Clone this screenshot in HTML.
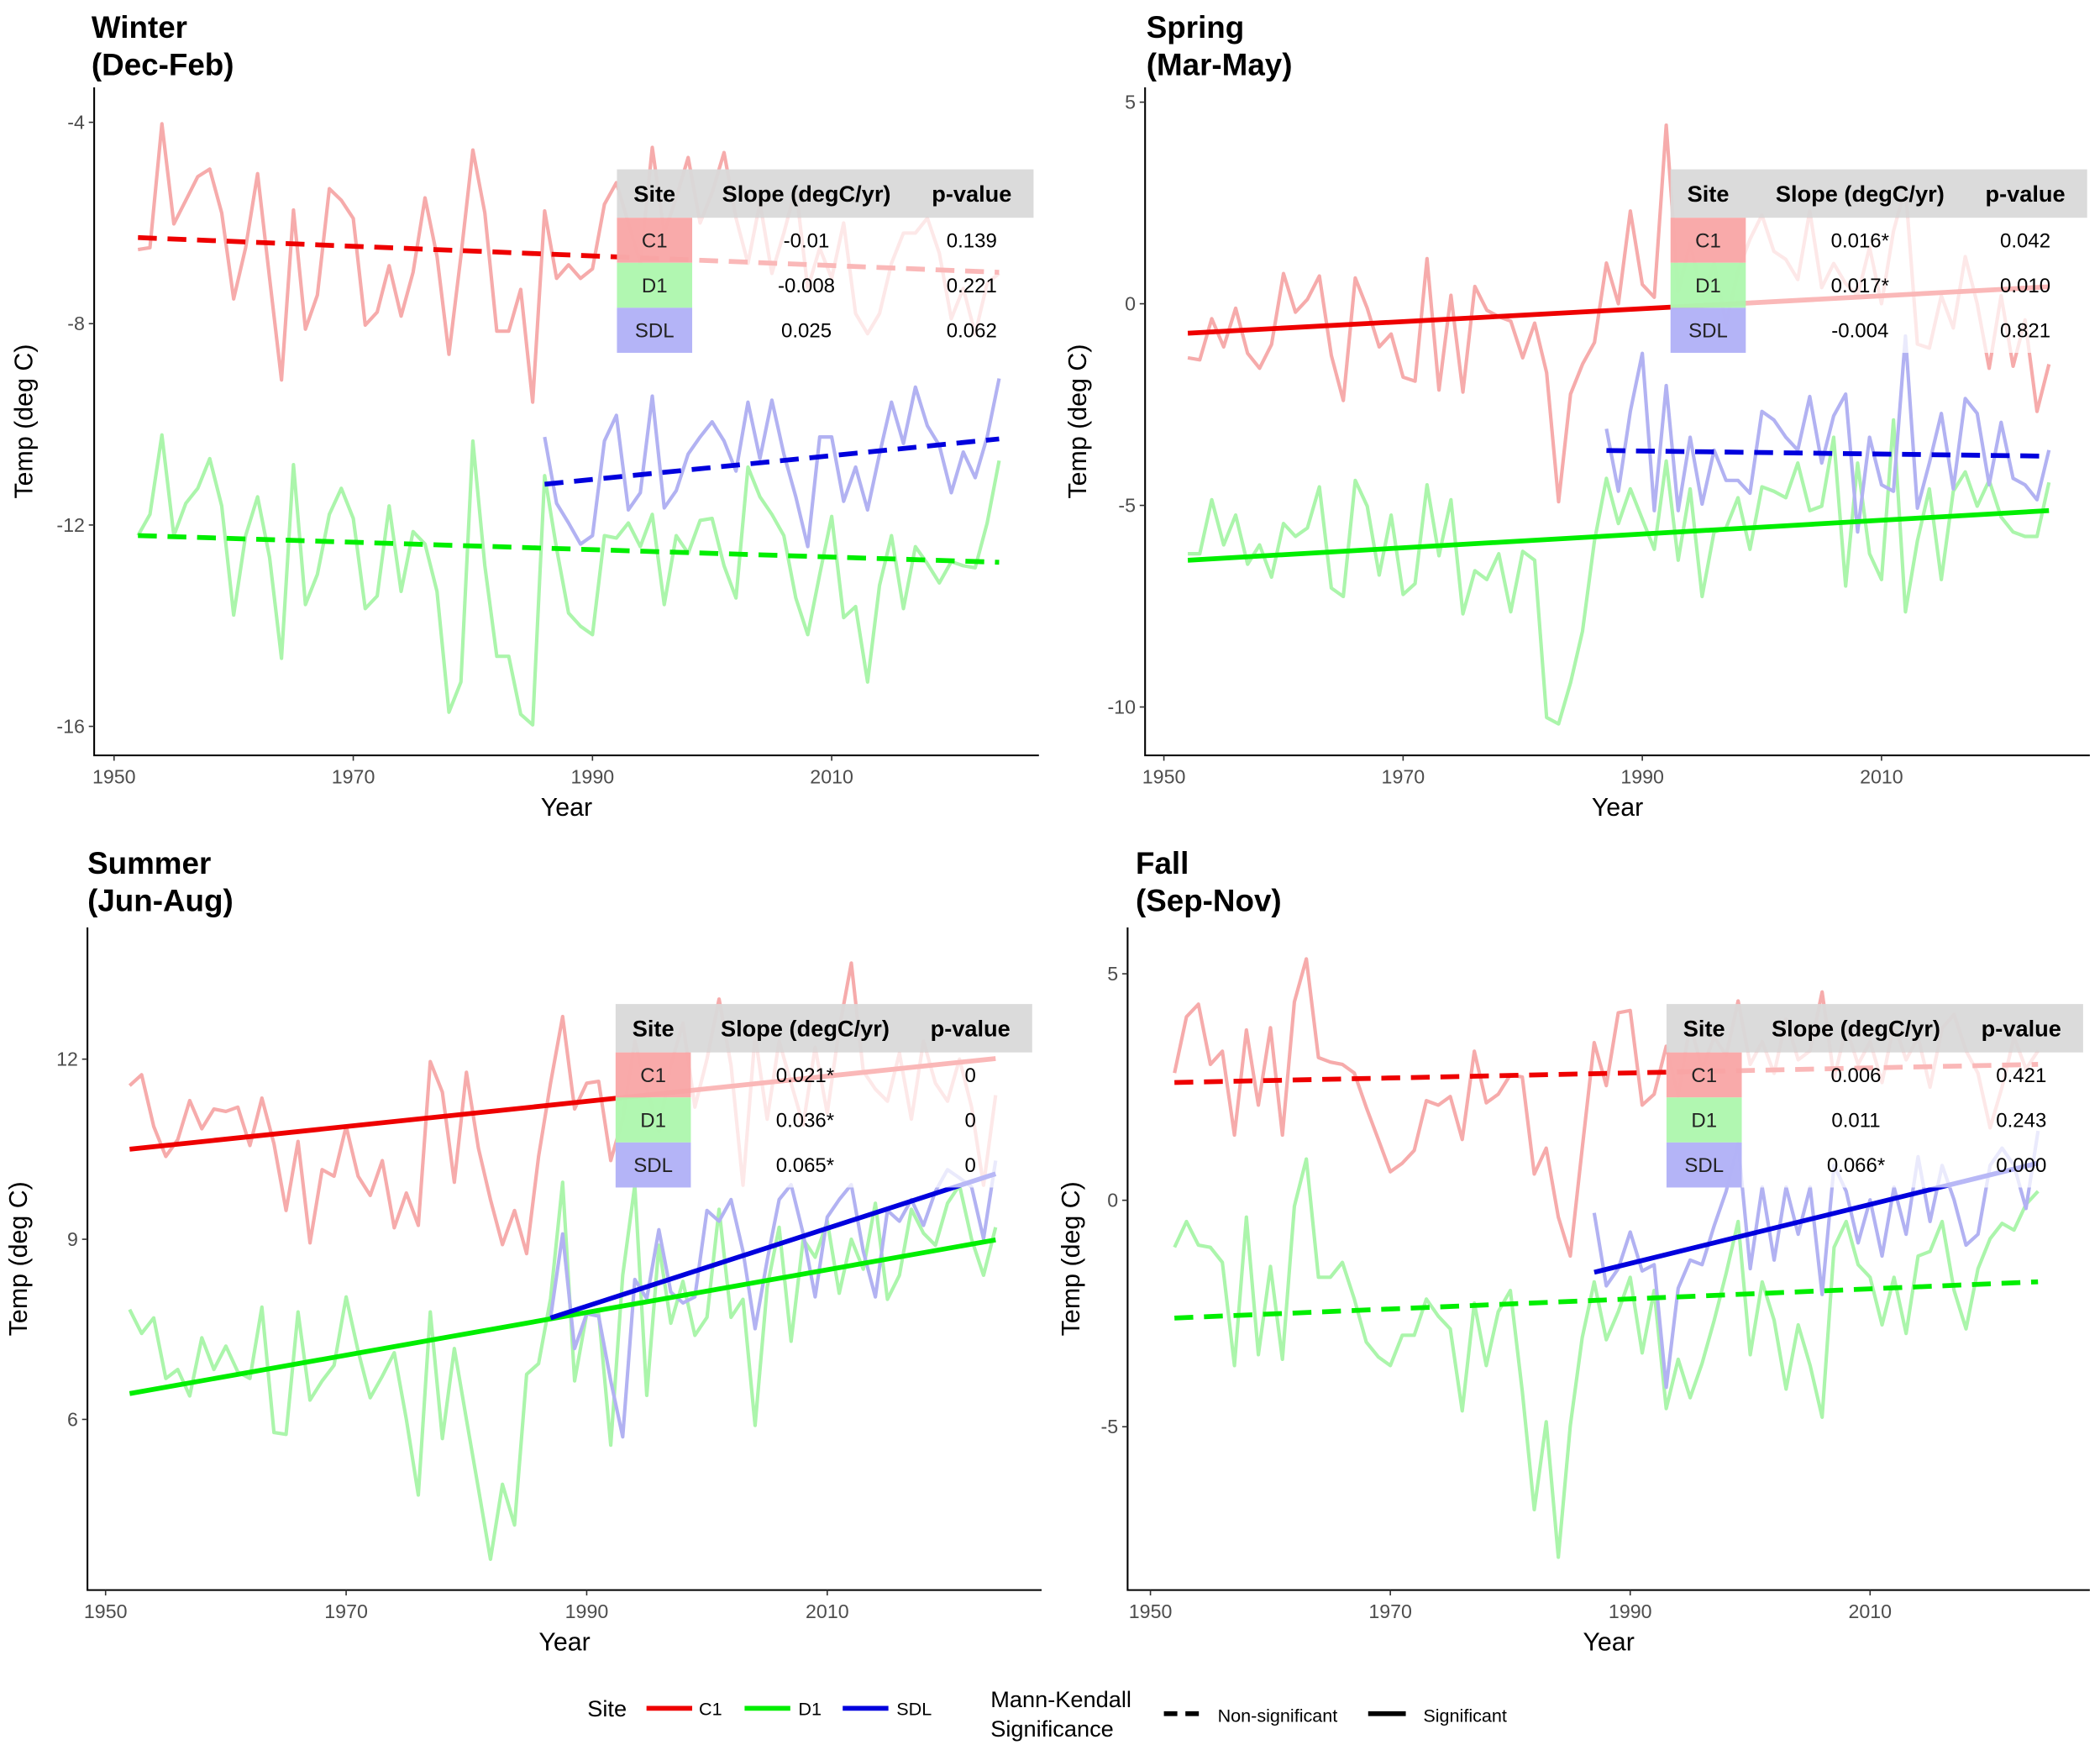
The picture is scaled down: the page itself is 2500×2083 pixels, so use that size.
<!DOCTYPE html>
<html><head><meta charset="utf-8"><title>Seasonal temperature trends</title>
<style>
html,body{margin:0;padding:0;background:#fff;}
svg{display:block;font-family:"Liberation Sans",Arial,sans-serif;}
</style></head>
<body>
<svg id="chart" width="2500" height="2083" viewBox="0 0 1562.5 1302" xmlns="http://www.w3.org/2000/svg"></svg>
<script>
const years = Array.from({length:73},(_,i)=>1952+i);
const sdlYearsWinter = Array.from({length:39},(_,i)=>1986+i);
const sdlYearsOther = Array.from({length:38},(_,i)=>1987+i);

const winterC1 = [-6.53,-6.49,-4.03,-6.02,-5.55,-5.08,-4.93,-5.80,-7.51,-6.49,-5.02,-7.09,-9.12,-5.74,-8.11,-7.43,-5.32,-5.55,-5.91,-8.03,-7.77,-6.85,-7.85,-6.98,-5.50,-6.66,-8.61,-6.66,-4.55,-5.80,-8.15,-8.15,-7.32,-9.56,-5.76,-7.10,-6.83,-7.10,-6.91,-5.63,-5.2,-6.0,-6.8,-4.5,-6.2,-5.5,-4.7,-6.0,-5.4,-4.6,-5.9,-6.8,-5.6,-7.0,-6.2,-5.3,-7.3,-6.5,-7.1,-6.0,-7.8,-8.2,-7.8,-6.8,-6.2,-6.2,-5.9,-6.6,-7.9,-7.3,-8.2,-7.2,-7.0];
const winterD1 = [-12.21,-11.79,-10.21,-12.21,-11.57,-11.27,-10.68,-11.62,-13.79,-12.21,-11.44,-12.64,-14.65,-10.80,-13.58,-12.98,-11.79,-11.27,-11.87,-13.66,-13.41,-11.62,-13.32,-12.13,-12.38,-13.32,-15.72,-15.12,-10.33,-12.81,-14.61,-14.61,-15.76,-15.97,-11.02,-12.47,-13.75,-14.01,-14.18,-12.21,-12.26,-11.96,-12.43,-11.79,-13.58,-12.21,-12.56,-11.91,-11.87,-12.81,-13.45,-10.85,-11.44,-11.79,-12.21,-13.45,-14.18,-12.98,-11.83,-13.84,-13.62,-15.12,-13.20,-12.21,-13.66,-12.43,-12.77,-13.15,-12.73,-12.81,-12.85,-11.96,-10.72];
const winterSDL = [-10.25,-11.57,-11.96,-12.38,-12.21,-10.33,-9.82,-11.70,-11.36,-9.44,-11.66,-11.32,-10.59,-10.25,-9.95,-10.33,-10.93,-9.56,-10.68,-9.52,-10.59,-11.44,-12.43,-10.25,-10.25,-11.53,-10.85,-11.70,-10.59,-9.56,-10.38,-9.26,-10.03,-10.42,-11.36,-10.55,-11.06,-10.25,-9.09];

const springC1 = [-1.34,-1.39,-0.37,-1.07,-0.11,-1.23,-1.60,-1.01,0.75,-0.21,0.11,0.69,-1.28,-2.40,0.64,-0.11,-1.07,-0.75,-1.82,-1.92,1.12,-2.14,0.21,-2.19,0.43,-0.16,-0.32,-0.43,-1.34,-0.48,-1.71,-4.91,-2.24,-1.50,-0.96,1.01,0.00,2.30,0.48,0.16,4.43,0.3,1.5,0.2,1.0,-0.5,0.8,1.6,2.2,1.3,1.1,0.6,2.3,0.4,1.0,0.5,0.2,1.4,0.0,1.8,2.9,-1.0,-1.1,0.2,-0.6,1.17,0.0,-1.6,0.2,-1.55,-0.4,-2.67,-1.5];
const springD1 = [-6.20,-6.20,-4.86,-5.98,-5.24,-6.46,-5.98,-6.78,-5.45,-5.77,-5.56,-4.54,-7.05,-7.26,-4.38,-5.02,-6.73,-5.24,-7.21,-6.94,-4.49,-6.25,-4.86,-7.69,-6.62,-6.84,-6.20,-7.64,-6.14,-6.36,-10.26,-10.42,-9.40,-8.12,-5.88,-4.33,-5.45,-4.59,-5.34,-6.09,-3.90,-6.36,-4.59,-7.26,-5.66,-5.56,-4.81,-6.09,-4.54,-4.65,-4.81,-3.95,-5.13,-5.02,-3.31,-7.00,-3.95,-6.20,-6.84,-2.88,-7.64,-5.88,-4.59,-6.84,-4.65,-4.17,-5.02,-4.38,-5.29,-5.66,-5.77,-5.77,-4.43];
const springSDL = [-3.10,-4.65,-2.67,-1.23,-5.13,-2.03,-5.13,-3.31,-4.97,-3.63,-4.38,-4.38,-4.70,-2.67,-2.88,-3.31,-3.63,-2.30,-3.95,-2.78,-2.24,-5.66,-3.31,-4.49,-4.65,-0.80,-5.07,-3.95,-2.72,-4.59,-2.35,-2.72,-4.49,-2.94,-4.33,-4.49,-4.86,-3.63];

const summerC1 = [11.56,11.74,10.88,10.38,10.66,11.31,10.84,11.17,11.13,11.20,10.56,11.35,10.59,9.48,10.63,8.94,10.16,10.05,10.88,10.05,9.73,10.31,9.19,9.77,9.23,11.96,11.45,9.95,11.78,10.52,9.66,8.91,9.48,8.76,10.38,11.60,12.71,11.17,11.60,11.63,10.31,11.0,12.3,11.5,10.8,11.9,12.6,11.2,12.0,13.0,11.9,9.9,12.4,11.0,12.3,11.6,10.9,12.2,11.1,12.5,13.6,11.8,11.5,11.3,12.1,11.0,12.3,11.6,11.3,12.0,11.2,9.9,11.4];
const summerD1 = [7.83,7.43,7.69,6.68,6.83,6.39,7.36,6.83,7.22,6.79,6.68,7.87,5.78,5.75,7.79,6.32,6.64,6.90,8.04,7.14,6.36,6.72,7.11,6.00,4.74,7.79,5.68,7.18,6.00,4.85,3.67,4.92,4.24,6.75,6.93,8.01,9.95,6.64,7.76,7.76,5.57,8.4,9.9,6.4,8.9,7.6,8.3,7.4,7.7,9.5,7.7,8.0,5.9,8.2,9.2,7.3,9.0,8.7,9.3,8.1,9.0,8.5,9.6,8.0,8.4,9.5,9.1,8.9,9.6,9.9,9.0,8.4,9.2];
const summerSDL = [7.69,9.09,7.18,7.76,7.72,6.64,5.71,8.33,8.01,9.16,8.12,7.94,8.04,9.48,9.30,9.66,8.80,7.51,8.65,9.66,9.91,9.09,8.04,9.37,9.66,9.91,8.80,8.04,9.48,9.30,9.66,9.23,9.80,10.16,10.02,9.87,9.01,10.31];

const fallC1 = [2.81,4.05,4.33,3.00,3.29,1.44,3.76,2.10,3.81,1.44,4.38,5.33,3.15,3.05,3.00,2.81,2.05,1.34,0.63,0.82,1.10,2.20,2.10,2.29,1.34,3.29,2.15,2.34,2.77,2.72,0.58,1.15,-0.37,-1.23,1.15,3.48,2.53,4.14,4.19,2.10,2.34,3.4,2.3,3.9,2.9,3.6,3.2,4.4,3.0,3.5,2.8,4.0,3.1,3.3,4.6,2.7,3.8,3.0,3.5,2.6,3.9,3.1,3.6,2.5,3.8,4.1,3.3,2.8,1.6,2.5,3.6,2.9,3.3];
const fallD1 = [-1.04,-0.47,-0.99,-1.04,-1.37,-3.65,-0.37,-3.41,-1.46,-3.51,-0.13,0.91,-1.70,-1.70,-1.37,-2.18,-3.13,-3.46,-3.65,-2.98,-2.98,-2.18,-2.56,-2.84,-4.65,-2.27,-3.65,-2.46,-1.99,-4.22,-6.83,-4.89,-7.88,-4.98,-3.03,-1.80,-3.08,-2.46,-1.70,-3.37,-1.99,-4.60,-3.51,-4.36,-3.60,-2.65,-1.61,-0.47,-3.41,-1.80,-2.65,-4.17,-2.75,-3.65,-4.79,-1.04,-0.47,-1.42,-1.70,-2.75,-1.70,-2.94,-1.23,-1.13,-0.47,-1.99,-2.84,-1.51,-0.85,-0.51,-0.66,-0.09,0.20];
const fallSDL = [-0.28,-1.89,-1.51,-0.70,-1.56,-1.42,-4.13,-1.94,-1.32,-1.42,-0.56,0.20,1.25,-1.51,0.29,-1.32,0.29,-0.75,0.29,-2.08,0.77,0.20,-0.94,0.01,-1.23,0.29,-0.75,0.96,-0.47,0.77,0.01,-0.99,-0.75,0.77,1.15,0.77,-0.18,1.53];

// trend lines: [startYear, endYear, startValue, endValue, significant]
const winterTrends = {C1:[1952,2024,-6.29,-6.98,false], D1:[1952,2024,-12.21,-12.74,false], SDL:[1986,2024,-11.19,-10.29,false]};
const springTrends = {C1:[1952,2024,-0.73,0.42,true], D1:[1952,2024,-6.36,-5.13,true], SDL:[1987,2024,-3.64,-3.78,false]};
const summerTrends = {C1:[1952,2024,10.50,12.01,true], D1:[1952,2024,6.43,8.99,true], SDL:[1987,2024,7.69,10.09,true]};
const fallTrends = {C1:[1952,2024,2.60,3.00,false], D1:[1952,2024,-2.60,-1.80,false], SDL:[1987,2024,-1.59,0.82,true]};

const winterTable = [["C1","-0.01","0.139"],["D1","-0.008","0.221"],["SDL","0.025","0.062"]];
const springTable = [["C1","0.016*","0.042"],["D1","0.017*","0.010"],["SDL","-0.004","0.821"]];
const summerTable = [["C1","0.021*","0"],["D1","0.036*","0"],["SDL","0.065*","0"]];
const fallTable = [["C1","0.006","0.421"],["D1","0.011","0.243"],["SDL","0.066*","0.000"]];

const xTicks = [1950,1970,1990,2010];
const winterYTicks = [-4,-8,-12,-16];
const springYTicks = [5,0,-5,-10];
const summerYTicks = [12,9,6];
const fallYTicks = [5,0,-5];

const NS="http://www.w3.org/2000/svg";
const svg=document.getElementById('chart');
function mk(tag,attrs,parent){const e=document.createElementNS(NS,tag);for(const k in attrs)e.setAttribute(k,attrs[k]);(parent||svg).appendChild(e);return e;}

const faded={C1:"#f6abab",D1:"#abf5ab",SDL:"#b2b2f2"};
const strong={C1:"#ee0000",D1:"#00ee00",SDL:"#0000dd"};
const cellCol={C1:"#f8a3a3",D1:"#aaf6aa",SDL:"#aeaef6"};

function panel(cfg){
  const g=mk('g',{});
  
  
  const sx=y=>cfg.x0+(y-1950)*cfg.xs;
  const sy=v=>cfg.yRef-(v-cfg.vRef)*cfg.ys;
  const t1=mk('text',{x:cfg.titleX,y:cfg.titleY,'font-size':23,'font-weight':'bold',fill:'#000'},g);
  t1.textContent=cfg.title;
  
  
  const t2=mk('text',{x:cfg.titleX,y:cfg.titleY+28,'font-size':23,'font-weight':'bold',fill:'#000'},g);
  t2.textContent=cfg.sub;
  
  
  const ax=mk('path',{d:`M${cfg.left},${cfg.top} V${cfg.bottom} H${cfg.right}`,stroke:'#000','stroke-width':1.3,fill:'none'},g);
  
  
  xTicks.forEach(v=>{
    const x=sx(v);
    mk('line',{x1:x,x2:x,y1:cfg.bottom,y2:cfg.bottom+4,stroke:'#333','stroke-width':1},g);
    const tl=mk('text',{x:x,y:cfg.bottom+21,'font-size':14.5,fill:'#4d4d4d','text-anchor':'middle'},g);
    tl.textContent=v;
    
    
  });
  cfg.yTicks.forEach(v=>{
    const y=sy(v);
    mk('line',{x1:cfg.left-4,x2:cfg.left,y1:y,y2:y,stroke:'#333','stroke-width':1},g);
    const tl=mk('text',{x:cfg.left-7,y:y+5,'font-size':14.5,fill:'#4d4d4d','text-anchor':'end'},g);
    tl.textContent=v;
    
    
  });
  const xt=mk('text',{x:(cfg.left+cfg.right)/2,y:cfg.bottom+45,'font-size':19,'text-anchor':'middle',fill:'#000'},g);
  xt.textContent='Year';
  
  
  const yc=(cfg.top+cfg.bottom)/2;
  const yx=cfg.ytX;
  const yt=mk('text',{x:yx,y:yc,'font-size':19,'text-anchor':'middle',fill:'#000',transform:`rotate(-90 ${yx} ${yc})`},g);
  yt.textContent='Temp (deg C)';
  
  
  const series=[["C1",years,cfg.c1],["D1",years,cfg.d1],["SDL",cfg.sdlYears,cfg.sdl]];
  series.forEach(([k,ys,vals])=>{
    const d=vals.map((v,i)=>(i?'L':'M')+sx(ys[i]).toFixed(1)+','+sy(v).toFixed(1)).join(' ');
    const p=mk('path',{d:d,stroke:faded[k],'stroke-width':2.6,fill:'none','stroke-linejoin':'round'},g);
    
    
  });
  ["C1","D1","SDL"].forEach(k=>{
    const tr=cfg.trends[k];
    const l=mk('line',{x1:sx(tr[0]),y1:sy(tr[2]),x2:sx(tr[1]),y2:sy(tr[3]),stroke:strong[k],'stroke-width':3.6},g);
    if(!tr[4]) l.setAttribute('stroke-dasharray','14 8');
    
    
  });
  const tx=cfg.tableX, ty=cfg.tableY, tw=310, hh=36, rh=33.5;
  const tg=mk('g',{},g);
  
  
  mk('rect',{x:tx,y:ty+hh,width:tw,height:rh*3,fill:'#fff','fill-opacity':0.72},tg);
  mk('rect',{x:tx,y:ty,width:tw,height:hh,fill:'#d9d9d9','fill-opacity':0.95},tg);
  [["Site",28],["Slope (degC/yr)",141],["p-value",264]].forEach(([s,dx])=>{
    const h=mk('text',{x:tx+dx,y:ty+24,'font-size':17,'font-weight':'bold','text-anchor':'middle',fill:'#000'},tg);
    h.textContent=s;
  });
  cfg.table.forEach((r,i)=>{
    const ry=ty+hh+i*rh;
    mk('rect',{x:tx,y:ry,width:56,height:rh,fill:cellCol[r[0]],'fill-opacity':0.92},tg);
    const a=mk('text',{x:tx+28,y:ry+22,'font-size':15,'text-anchor':'middle',fill:'#222'},tg);a.textContent=r[0];
    const b=mk('text',{x:tx+141,y:ry+22,'font-size':15,'text-anchor':'middle',fill:'#000'},tg);b.textContent=r[1];
    const c=mk('text',{x:tx+264,y:ry+22,'font-size':15,'text-anchor':'middle',fill:'#000'},tg);c.textContent=r[2];
  });
}

panel({name:'winter',title:'Winter',sub:'(Dec-Feb)',titleX:68,titleY:28,ytX:24,left:70,right:773,top:65,bottom:562,x0:84.8,xs:8.9,yRef:91,vRef:-4,ys:37.45,yTicks:winterYTicks,c1:winterC1,d1:winterD1,sdl:winterSDL,sdlYears:sdlYearsWinter,trends:winterTrends,table:winterTable,tableX:459,tableY:126});
panel({name:'spring',title:'Spring',sub:'(Mar-May)',titleX:853,titleY:28,ytX:808,left:852,right:1555,top:65,bottom:562,x0:866,xs:8.9,yRef:226,vRef:0,ys:30,yTicks:springYTicks,c1:springC1,d1:springD1,sdl:springSDL,sdlYears:sdlYearsOther,trends:springTrends,table:springTable,tableX:1243,tableY:126});
panel({name:'summer',title:'Summer',sub:'(Jun-Aug)',titleX:65,titleY:650,ytX:20,left:65,right:775,top:690,bottom:1183,x0:78.5,xs:8.95,yRef:788,vRef:12,ys:44.67,yTicks:summerYTicks,c1:summerC1,d1:summerD1,sdl:summerSDL,sdlYears:sdlYearsOther,trends:summerTrends,table:summerTable,tableX:458,tableY:747});
panel({name:'fall',title:'Fall',sub:'(Sep-Nov)',titleX:845,titleY:650,ytX:803,left:839,right:1555,top:690,bottom:1183,x0:856,xs:8.925,yRef:893,vRef:0,ys:33.7,yTicks:fallYTicks,c1:fallC1,d1:fallD1,sdl:fallSDL,sdlYears:sdlYearsOther,trends:fallTrends,table:fallTable,tableX:1240,tableY:747});

const lg=mk('g',{});


function ltxt(x,y,s,fs){const t=mk('text',{x:x,y:y,'font-size':fs,fill:'#000'},lg);t.textContent=s;return t;}
ltxt(437,1277,'Site',17);
[["C1",481,520],["D1",554,594],["SDL",627,667]].forEach(([k,x,tx])=>{
  const l=mk('line',{x1:x,x2:x+34,y1:1271,y2:1271,stroke:strong[k],'stroke-width':3.6},lg);
  
  
  ltxt(tx,1276,k,13.5);
});
ltxt(737,1270,'Mann-Kendall',17);
ltxt(737,1292,'Significance',17);
const dl=mk('line',{x1:866,x2:892,y1:1275,y2:1275,stroke:'#000','stroke-width':3.6,'stroke-dasharray':'10 6'},lg);


ltxt(906,1281,'Non-significant',13.5);
const sl=mk('line',{x1:1018,x2:1046,y1:1275,y2:1275,stroke:'#000','stroke-width':3.6},lg);


ltxt(1059,1281,'Significant',13.5);
</script>
</body></html>
